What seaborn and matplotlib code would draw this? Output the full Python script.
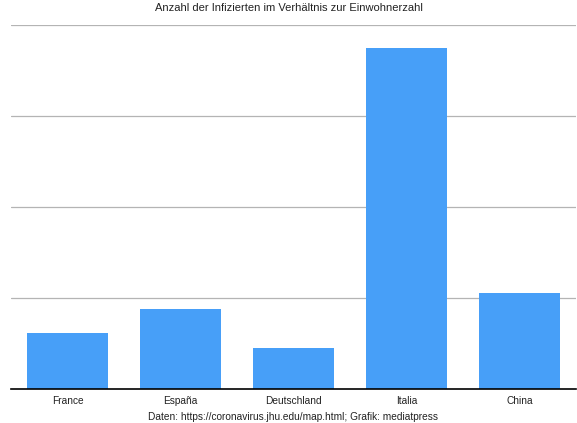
import matplotlib
matplotlib.use("Agg")
import matplotlib.pyplot as plt
import seaborn as sns
import pandas as pd

# Data (relative units, gridline step = 1)
countries = ["France", "España", "Deutschland", "Italia", "China"]
values = [0.62, 0.88, 0.45, 3.75, 1.055]

df = pd.DataFrame({"country": countries, "value": values})

sns.set_style("white")
plt.rcParams["font.family"] = ["Liberation Sans", "DejaVu Sans"]

fig = plt.figure(figsize=(5.77, 4.23), dpi=100)
ax = fig.add_axes([11 / 577, 34 / 423, 565 / 577, 364 / 423])

sns.barplot(data=df, x="country", y="value", color="#479ff8",
            saturation=1, width=0.717, linewidth=0, ax=ax, zorder=3)

ax.set_ylim(0, 4)
ax.set_yticks([1, 2, 3, 4])
ax.yaxis.grid(True, color="#b4b4b4", linewidth=0.9)
ax.set_axisbelow(True)
ax.tick_params(axis="y", left=False, labelleft=False)
ax.tick_params(axis="x", bottom=False, labelsize=7.3, pad=1.5, colors="#222222")
ax.set_xlabel("")
ax.set_ylabel("")

for side in ["top", "left", "right"]:
    ax.spines[side].set_visible(False)
ax.spines["bottom"].set_color("black")
ax.spines["bottom"].set_linewidth(1.2)
ax.spines["bottom"].set_zorder(4)

fig.text(0.5, 1 - 8 / 423, "Anzahl der Infizierten im Verhältnis zur Einwohnerzahl",
         ha="center", va="center", fontsize=8, color="#222222")
fig.text(293 / 577, 1 - 417 / 423, "Daten: https://coronavirus.jhu.edu/map.html; Grafik: mediatpress",
         ha="center", va="center", fontsize=7.3, color="#222222")

fig.savefig("out.png", dpi=100)
